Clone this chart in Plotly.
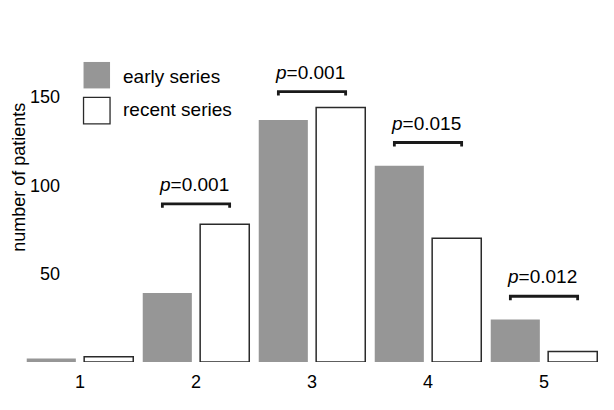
import plotly.graph_objects as go

# ---- data ----
categories = [1, 2, 3, 4, 5]
tick_labels = ["1", "2", "3", "4", "5"]
early_series = [2, 39, 137, 111, 24]
recent_series = [3, 78, 144, 70, 6]
p_labels = [None, "0.001", "0.001", "0.015", "0.012"]
bracket_heights = [None, 89.5, 153, 124.2, 37.2]
y_ticks = [50, 100, 150]

FONT = "Liberation Sans, Arial, sans-serif"

# The page body has an 8px default margin; work in page pixels and convert.
OFF = 8
W, H = 614 - 2 * OFF, 410 - 2 * OFF
# plot area in page pixels
PL, PR, PT, PB = 22, 601.7, 40, 362.5
ML, MT = PL - OFF, PT - OFF
MR = W - (PR - OFF)
MB = H - (PB - OFF)
PW, PH = PR - PL, PB - PT
PX_PER_UNIT = 1.77
YMAX = PH / PX_PER_UNIT

def px_to_paper_x(px):
    return (px - PL) / PW

def px_to_paper_y(py):
    return (PB - py) / PH

fig = go.Figure()
fig.add_trace(go.Bar(
    x=categories, y=early_series, name="early series",
    marker=dict(color="#969696", line=dict(width=0)),
))
fig.add_trace(go.Bar(
    x=categories, y=recent_series, name="recent series",
    marker=dict(color="white", line=dict(color="#2a2a2a", width=1.5)),
))

# significance brackets
half = 0.29
tick_h = 2.2
bx, by = [], []
for c, h in zip(categories, bracket_heights):
    if h is None:
        continue
    bx += [c - half, c - half, c + half, c + half, None]
    by += [h - tick_h, h, h, h - tick_h, None]
fig.add_trace(go.Scatter(
    x=bx, y=by, mode="lines", line=dict(color="#1a1a1a", width=2.8),
    hoverinfo="skip", showlegend=False,
))

annotations = []
for c, h, p in zip(categories, bracket_heights, p_labels):
    if p is None:
        continue
    annotations.append(dict(
        x=c - 0.02, y=h + 11, xref="x", yref="y",
        text="<i>p</i>=" + p, showarrow=False,
        font=dict(family=FONT, size=19, color="black"),
        xanchor="center", yanchor="middle",
    ))

# y-axis title
annotations.append(dict(
    x=px_to_paper_x(19), y=px_to_paper_y(177), xref="paper", yref="paper",
    text="number of patients", textangle=-90, showarrow=False,
    font=dict(family=FONT, size=18, color="black"),
    xanchor="center", yanchor="middle",
))

# manual legend (large swatches)
shapes = [
    dict(type="rect", xref="paper", yref="paper",
         x0=px_to_paper_x(83.5), x1=px_to_paper_x(110),
         y0=px_to_paper_y(88.5), y1=px_to_paper_y(62),
         fillcolor="#969696", line=dict(width=0)),
    dict(type="rect", xref="paper", yref="paper",
         x0=px_to_paper_x(83.5), x1=px_to_paper_x(110),
         y0=px_to_paper_y(124), y1=px_to_paper_y(97.5),
         fillcolor="white", line=dict(color="#2a2a2a", width=1.3)),
]
for name, py in [("early series", 77), ("recent series", 110)]:
    annotations.append(dict(
        x=px_to_paper_x(121), y=px_to_paper_y(py), xref="paper", yref="paper",
        text=name, showarrow=False,
        font=dict(family=FONT, size=19, color="black"),
        xanchor="left", yanchor="middle",
    ))

fig.update_layout(
    width=W, height=H,
    margin=dict(l=ML, r=MR, t=MT, b=MB),
    paper_bgcolor="white", plot_bgcolor="white",
    barmode="group", bargap=0.01, bargroupgap=0.145,
    showlegend=False,
    font=dict(family=FONT, size=18, color="black"),
    annotations=annotations, shapes=shapes,
    xaxis=dict(
        range=[0.5, 5.5], tickmode="array", tickvals=categories,
        ticktext=tick_labels, showgrid=False, showline=False,
        zeroline=False, ticks="", tickfont=dict(size=18),
        ticklabelstandoff=7,
    ),
    yaxis=dict(
        range=[0, YMAX], tickmode="array", tickvals=y_ticks,
        showgrid=False, showline=False, zeroline=False, ticks="",
        anchor="free", position=px_to_paper_x(60),
        tickfont=dict(size=18),
    ),
)

fig.write_html("out.html")
